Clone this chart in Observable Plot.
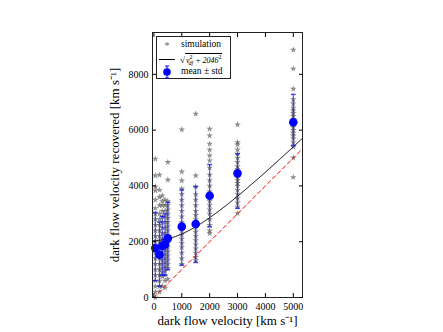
<!DOCTYPE html>
<html><head><meta charset="utf-8">
<script src="https://cdn.jsdelivr.net/npm/d3@7"></script>
<script src="https://cdn.jsdelivr.net/npm/@observablehq/plot@0.6"></script>
<style>
body{margin:0;background:#fff;}
#wrap{position:relative;width:443px;height:332px;font-family:"Liberation Serif",serif;}
#legend{position:absolute;left:156px;top:36px;width:75px;height:43px;border:1px solid #222;background:#fff;box-sizing:border-box;font-size:9.5px;color:#000;}
#legend .row{position:absolute;left:0;width:100%;height:14px;}
#legend svg.sym{position:absolute;left:0;top:0;}
#legend .lab{position:absolute;left:24px;white-space:nowrap;line-height:1;}
.sq{display:inline-block;border-top:0.8px solid #000;padding-left:1px;font-size:8px;font-style:italic;}
.sq sup{font-size:6px;font-style:normal;}
.sq sub{font-size:6px;}
</style>
</head><body>
<div id="wrap">
<div id="chart"></div>
<div id="legend">
  <div class="row" style="top:1px;">
    <svg class="sym" width="22" height="14"><text x="10" y="11" text-anchor="middle" font-size="10" fill="#666">*</text></svg>
    <span class="lab" style="top:2px;">simulation</span>
  </div>
  <div class="row" style="top:15px;">
    <svg class="sym" width="22" height="14"><line x1="2" x2="18" y1="7.5" y2="7.5" stroke="#000" stroke-width="1"/></svg>
    <span class="lab" style="top:1px;left:23px;font-size:9px;">√<span class="sq">v<sup>2</sup><sub style="margin-left:-4px;">df</sub> + 2046<sup>2</sup></span></span>
  </div>
  <div class="row" style="top:28px;">
    <svg class="sym" width="22" height="14"><line x1="10" x2="10" y1="1" y2="13" stroke="#0000ff" stroke-width="1"/><line x1="8" x2="12" y1="1" y2="1" stroke="#0000ff"/><line x1="8" x2="12" y1="13" y2="13" stroke="#0000ff"/><circle cx="10" cy="7" r="3.8" fill="#0000ff"/></svg>
    <span class="lab" style="top:2px;">mean ± std</span>
  </div>
</div>
</div>
<script>
// ---- data ----
const velocities = [50, 200, 300, 400, 500, 1000, 1500, 2000, 3000, 5000];
const meanRecovered = [1775, 1530, 1850, 1900, 2120, 2540, 2635, 3650, 4450, 6285];
const errTop    = [3050, 2700, 2900, 3000, 3410, 3855, 3975, 4765, 5150, 7280];
const errBottom = [600, 400, 800, 800, 1000, 1160, 1257, 2535, 3200, 5450];

const sim50   = [4970, 4370, 3975, 3830, 3500, 3200, 3000, 2800, 2600, 2400, 2200, 2000, 1800, 1600, 1400, 1200, 1000, 800, 600, 400, 200, 0];
const sim200  = [4395, 3855, 3600, 3300, 3000, 2800, 2600, 2400, 2200, 2000, 1800, 1600, 1400, 1200, 1000, 800, 600, 400, 200];
const sim300  = [3650, 3450, 3300, 3100, 2900, 2700, 2500, 2300, 2100, 1950, 1800, 1650, 1500, 1350, 1200, 1050, 900, 750, 410];
const sim400  = [3500, 3300, 3100, 2900, 2700, 2500, 2300, 2150, 2000, 1850, 1700, 1550, 1400, 1250, 1100, 950, 800, 600, 350];
const sim500  = [4850, 4215, 3450, 3300, 3150, 3000, 2850, 2700, 2550, 2400, 2250, 2100, 1950, 1800, 1650, 1500, 1350, 1200, 1050, 660];
const sim1000 = [6020, 4510, 4190, 3900, 3710, 3500, 3300, 3100, 2900, 2700, 2550, 2400, 2250, 2100, 1950, 1800, 1600, 1400, 1200];
const sim1500 = [6585, 4370, 3975, 3700, 3500, 3300, 3100, 2950, 2800, 2650, 2500, 2350, 2200, 2050, 1900, 1750, 1600, 1450, 1320];
const sim2000 = [6045, 5805, 5505, 5290, 5090, 4910, 4650, 4400, 4200, 4000, 3800, 3600, 3450, 3300, 3150, 3000, 2800, 2600, 2400, 2300];
const sim3000 = [6200, 5565, 5480, 5300, 5150, 5000, 4850, 4700, 4600, 4500, 4400, 4300, 4200, 4100, 4000, 3850, 3700, 3550, 3400, 3250, 3015];
const sim5000 = [8880, 8200, 7480, 7100, 6950, 6800, 6700, 6600, 6500, 6400, 6300, 6200, 6100, 6000, 5900, 5800, 5700, 5550, 5400, 5005, 4310];
const simColumns = [sim50, sim200, sim300, sim400, sim500, sim1000, sim1500, sim2000, sim3000, sim5000];

const xTicks = [0, 1000, 2000, 3000, 4000, 5000];
const yTicks = [0, 2000, 4000, 6000, 8000];
const offsetVelocity = 2046;           // sqrt(v^2 + 2046^2) model
const curveVelocities = d3.range(0, 5401, 25);
const diagVelocities = [0, 6000];

const xLabel = "dark flow velocity [km s⁻¹]";
const yLabel = "dark flow velocity recovered [km s⁻¹]";

// ---- tables ----
const sims = simColumns.flatMap((col, i) => col.map(y => ({x: velocities[i], y})));
const stats = velocities.map((v, i) => ({x: v, mean: meanRecovered[i], lo: errBottom[i], hi: errTop[i]}));
const model = curveVelocities.map(v => ({x: v, y: Math.sqrt(v * v + offsetVelocity * offsetVelocity)}));
const diag = diagVelocities.map(v => ({x: v, y: v}));

const capSymbol = {draw(ctx, size) { const r = Math.sqrt(size / Math.PI); ctx.moveTo(-r, 0); ctx.lineTo(r, 0); }};

const chart = Plot.plot({
  width: 443, height: 332,
  marginLeft: 152, marginRight: 141, marginTop: 32, marginBottom: 35,
  style: {fontFamily: "'Liberation Serif', serif", fontSize: "10px", background: "#fff", color: "#000"},
  x: {domain: [-50, 5330], axis: null},
  y: {domain: [0, 9500], axis: null},
  marks: [
    Plot.dot(sims, {x: "x", y: "y", symbol: "star", r: 2.1, fill: "#444", fillOpacity: 0.6, stroke: "none"}),
    Plot.line(model, {x: "x", y: "y", stroke: "#000", strokeWidth: 1, clip: true}),
    Plot.line(diag, {x: "x", y: "y", stroke: "#ff0000", strokeWidth: 1, strokeDasharray: "4,3", clip: true}),
    Plot.ruleX(stats, {x: "x", y1: "lo", y2: "hi", stroke: "#0000ff", strokeOpacity: 0.55, strokeWidth: 1.2}),
    Plot.dot(stats, {x: "x", y: "lo", symbol: capSymbol, r: 2.4, stroke: "#0000ff", strokeOpacity: 0.7, fill: "none"}),
    Plot.dot(stats, {x: "x", y: "hi", symbol: capSymbol, r: 2.4, stroke: "#0000ff", strokeOpacity: 0.7, fill: "none"}),
    Plot.dot(stats, {x: "x", y: "mean", r: 4.3, fill: "#0000ff", stroke: "none"}),
    Plot.frame({stroke: "#222", strokeWidth: 1}),
    Plot.axisX(xTicks, {anchor: "bottom", tickSize: -4, tickPadding: 9, label: null, tickFormat: d => String(d)}),
    Plot.axisX(xTicks, {anchor: "top", tickSize: -4, label: null, tickFormat: () => ""}),
    Plot.axisY(yTicks, {anchor: "left", tickSize: -4, tickPadding: 8, label: null, tickFormat: d => String(d)}),
    Plot.axisY(yTicks, {anchor: "right", tickSize: -4, label: null, tickFormat: () => ""}),
    Plot.text([xLabel], {frameAnchor: "bottom", dy: 23, lineAnchor: "middle", textAnchor: "middle", fontSize: 13}),
    Plot.text([yLabel], {frameAnchor: "left", dx: -38, rotate: -90, lineAnchor: "middle", textAnchor: "middle", fontSize: 13})
  ]
});
document.getElementById("chart").appendChild(chart);
</script>
</body></html>
